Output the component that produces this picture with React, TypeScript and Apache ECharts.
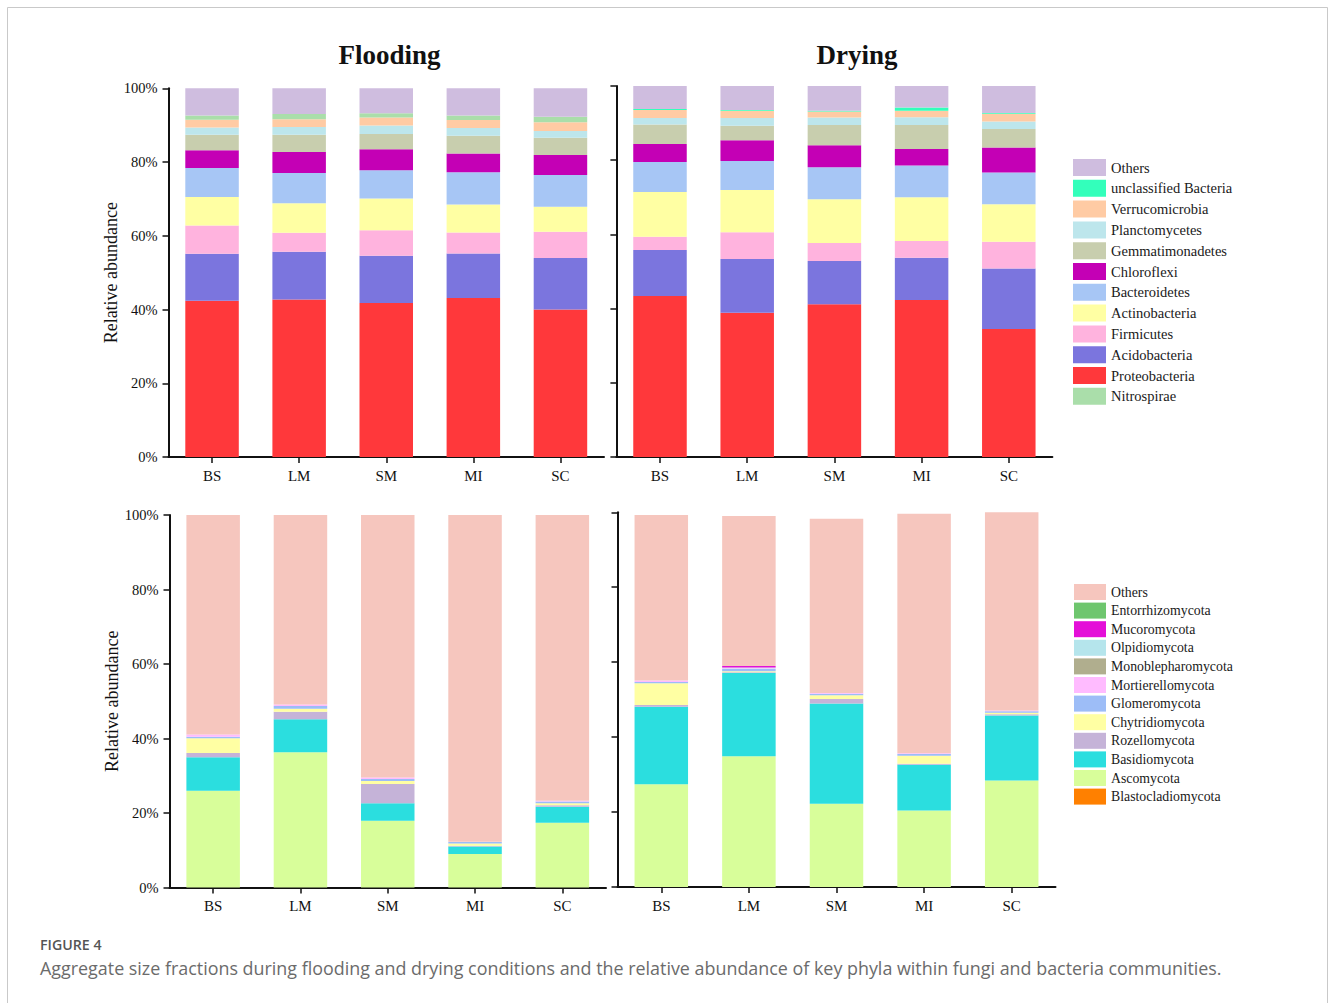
import React, { useEffect, useRef } from "react";
import * as echarts from "echarts";

// Sampling sites on every x axis
const sites = ["BS", "LM", "SM", "MI", "SC"];
const yTicks = [0, 20, 40, 60, 80, 100];

// Bacterial phyla, stacked bottom → top
const bacteriaPhyla = [
  "Proteobacteria",
  "Acidobacteria",
  "Firmicutes",
  "Actinobacteria",
  "Bacteroidetes",
  "Chloroflexi",
  "Gemmatimonadetes",
  "Planctomycetes",
  "Verrucomicrobia",
  "Nitrospirae",
  "unclassified Bacteria",
  "Others",
];
const bacteriaColors = [
  "#ff383b",
  "#7b75de",
  "#ffb3de",
  "#ffffa3",
  "#a7c6f5",
  "#c400b5",
  "#c8ceae",
  "#bde6ec",
  "#ffcba4",
  "#aadeaa",
  "#33ffbb",
  "#cfbddf",
];
// Legend order for bacteria (top → bottom)
const bacteriaLegend = [
  "Others",
  "unclassified Bacteria",
  "Verrucomicrobia",
  "Planctomycetes",
  "Gemmatimonadetes",
  "Chloroflexi",
  "Bacteroidetes",
  "Actinobacteria",
  "Firmicutes",
  "Acidobacteria",
  "Proteobacteria",
  "Nitrospirae",
];

// Relative abundance (%) per phylum, columns BS, LM, SM, MI, SC
const bacteriaFlooding = [
  [42.4, 42.7, 41.8, 43.1, 40.0],
  [12.7, 13.0, 12.8, 12.1, 14.0],
  [7.7, 5.1, 6.9, 5.7, 7.1],
  [7.7, 8.0, 8.6, 7.6, 6.8],
  [7.9, 8.2, 7.7, 8.7, 8.6],
  [4.8, 5.7, 5.7, 5.1, 5.4],
  [4.2, 4.7, 4.1, 4.8, 4.7],
  [2.0, 2.1, 2.3, 2.1, 1.8],
  [2.1, 2.1, 2.2, 2.2, 2.4],
  [1.1, 1.4, 1.1, 1.2, 1.5],
  [0, 0, 0, 0, 0],
  [7.4, 7.0, 6.8, 7.4, 7.7],
];
const bacteriaDrying = [
  [43.4, 38.9, 41.2, 42.3, 34.5],
  [12.4, 14.5, 11.6, 11.4, 16.3],
  [3.6, 7.2, 4.9, 4.5, 7.2],
  [12.0, 11.4, 11.8, 11.8, 10.1],
  [8.1, 7.8, 8.6, 8.6, 8.6],
  [4.9, 5.6, 5.9, 4.4, 6.7],
  [5.2, 3.9, 5.5, 6.5, 5.0],
  [1.8, 2.1, 2.0, 2.1, 2.0],
  [2.1, 1.9, 1.6, 1.7, 2.1],
  [0, 0, 0, 0, 0],
  [0.3, 0.2, 0.2, 0.9, 0.2],
  [6.2, 6.5, 6.7, 5.8, 7.3],
];

// Fungal phyla, stacked bottom → top
const fungiPhyla = [
  "Blastocladiomycota",
  "Ascomycota",
  "Basidiomycota",
  "Rozellomycota",
  "Chytridiomycota",
  "Glomeromycota",
  "Mortierellomycota",
  "Monoblepharomycota",
  "Olpidiomycota",
  "Mucoromycota",
  "Entorrhizomycota",
  "Others",
];
const fungiColors = [
  "#ff8000",
  "#d8fe9a",
  "#2bdedf",
  "#c5b3d8",
  "#ffffa3",
  "#9dbdf7",
  "#ffbbff",
  "#b0ae8e",
  "#b5e5ec",
  "#e40fd8",
  "#6ec66e",
  "#f6c6be",
];
const fungiLegend = [
  "Others",
  "Entorrhizomycota",
  "Mucoromycota",
  "Olpidiomycota",
  "Monoblepharomycota",
  "Mortierellomycota",
  "Glomeromycota",
  "Chytridiomycota",
  "Rozellomycota",
  "Basidiomycota",
  "Ascomycota",
  "Blastocladiomycota",
];

const fungiFlooding = [
  [0, 0, 0, 0, 0],
  [26.0, 36.3, 17.9, 9.0, 17.4],
  [9.0, 8.9, 4.7, 2.0, 4.3],
  [1.1, 2.0, 5.2, 0.2, 0.4],
  [4.0, 0.8, 0.8, 0.6, 0.5],
  [0.4, 0.7, 0.5, 0.4, 0.5],
  [0.6, 0.4, 0.4, 0.1, 0.2],
  [0, 0, 0, 0, 0],
  [0, 0, 0, 0, 0],
  [0, 0, 0, 0, 0],
  [0, 0, 0, 0, 0],
  [58.9, 50.9, 70.5, 87.7, 76.7],
];
const fungiDrying = [
  [0, 0, 0, 0, 0],
  [27.4, 34.9, 22.2, 20.4, 28.4],
  [20.7, 22.2, 26.8, 12.2, 17.4],
  [0.5, 0.2, 1.2, 0.3, 0.3],
  [5.8, 0.3, 1.0, 2.1, 0.4],
  [0.3, 0.6, 0.4, 0.5, 0.4],
  [0.4, 0.2, 0.2, 0.2, 0.2],
  [0, 0, 0, 0, 0],
  [0, 0.2, 0, 0, 0],
  [0, 0.4, 0, 0, 0],
  [0, 0, 0, 0, 0],
  [44.2, 40.0, 46.5, 63.9, 52.9],
];

const SERIF = '"Liberation Serif", "Times New Roman", serif';
const SANS = '"Open Sans", "Noto Sans", sans-serif';
const INK = "#111";

// Plot rectangles for the four panels
const grids = [
  { left: 168.5, top: 88.3, width: 435.5, height: 368.7 },
  { left: 616.4, top: 86, width: 436, height: 371 },
  { left: 169.5, top: 515, width: 436.5, height: 372.5 },
  { left: 617.5, top: 512.3, width: 438, height: 374.7 },
];

function buildSeries(
  names: string[],
  colors: string[],
  table: number[][],
  axisIndex: number
) {
  return names.map((name, i) => ({
    type: "bar",
    name,
    stack: "panel" + axisIndex,
    xAxisIndex: axisIndex,
    yAxisIndex: axisIndex,
    barWidth: 53.5,
    silent: true,
    itemStyle: { color: colors[i] },
    emphasis: { disabled: true },
    data: table[i],
  }));
}

function legendData(order: string[], names: string[], colors: string[]) {
  return order.map((n) => ({
    name: n,
    itemStyle: { color: colors[names.indexOf(n)] },
  }));
}

export default function App() {
  const ref = useRef<HTMLDivElement>(null);

  useEffect(() => {
    if (!ref.current) return;
    const chart = echarts.init(ref.current, undefined, { renderer: "svg" });

    const xAxes = grids.map((_, i) => ({
      type: "category",
      gridIndex: i,
      data: sites,
      axisLine: { show: true, lineStyle: { color: INK, width: 2 } },
      axisTick: { show: true, alignWithLabel: true, length: 6, lineStyle: { color: INK, width: 1.5 } },
      axisLabel: { fontFamily: SERIF, fontSize: 15, color: INK, margin: 11 },
      splitLine: { show: false },
    }));

    const yAxes = grids.map((_, i) => {
      const leftSide = i % 2 === 0;
      return {
        type: "value",
        gridIndex: i,
        min: yTicks[0],
        max: yTicks[yTicks.length - 1],
        interval: 20,
        name: leftSide ? "Relative abundance" : "",
        nameLocation: "middle",
        nameGap: 45,
        nameTextStyle: { fontFamily: SERIF, fontSize: 18, color: INK },
        axisLine: { show: true, lineStyle: { color: INK, width: 2 } },
        axisTick: { show: true, length: 6, lineStyle: { color: INK, width: 1.5 } },
        axisLabel: {
          show: leftSide,
          formatter: "{value}%",
          fontFamily: SERIF,
          fontSize: 14.5,
          color: INK,
          margin: 11,
        },
        splitLine: { show: false },
      };
    });

    const series = [
      ...buildSeries(bacteriaPhyla, bacteriaColors, bacteriaFlooding, 0),
      ...buildSeries(bacteriaPhyla, bacteriaColors, bacteriaDrying, 1),
      ...buildSeries(fungiPhyla, fungiColors, fungiFlooding, 2),
      ...buildSeries(fungiPhyla, fungiColors, fungiDrying, 3),
    ];

    chart.setOption({
      animation: false,
      backgroundColor: "#ffffff",
      grid: grids.map((g) => ({ ...g, containLabel: false })),
      xAxis: xAxes,
      yAxis: yAxes,
      legend: [
        {
          orient: "vertical",
          left: 1073,
          top: 159,
          padding: 0,
          icon: "rect",
          itemWidth: 33,
          itemHeight: 17,
          itemGap: 3.8,
          selectedMode: false,
          textStyle: { fontFamily: SERIF, fontSize: 14.5, color: "#1a1a1a" },
          data: legendData(bacteriaLegend, bacteriaPhyla, bacteriaColors),
        },
        {
          orient: "vertical",
          left: 1074,
          top: 584,
          padding: 0,
          icon: "rect",
          itemWidth: 32,
          itemHeight: 16,
          itemGap: 2.6,
          selectedMode: false,
          textStyle: { fontFamily: SERIF, fontSize: 13.8, color: "#1a1a1a" },
          data: legendData(fungiLegend, fungiPhyla, fungiColors),
        },
      ],
      graphic: [
        {
          type: "rect",
          shape: { x: 7.5, y: 7.5, width: 1320, height: 1020 },
          style: { fill: "none", stroke: "#c9c9c9", lineWidth: 1 },
          silent: true,
        },
        {
          type: "text",
          x: 389.5,
          y: 55,
          style: {
            text: "Flooding",
            fontFamily: SERIF,
            fontSize: 27,
            fontWeight: "bold",
            fill: INK,
            align: "center",
            verticalAlign: "middle",
          },
        },
        {
          type: "text",
          x: 857,
          y: 55,
          style: {
            text: "Drying",
            fontFamily: SERIF,
            fontSize: 27,
            fontWeight: "bold",
            fill: INK,
            align: "center",
            verticalAlign: "middle",
          },
        },
        {
          type: "text",
          x: 40,
          y: 944,
          style: {
            text: "FIGURE 4",
            fontFamily: SANS,
            fontSize: 14.2,
            fontWeight: 600,
            fill: "#555",
            align: "left",
            verticalAlign: "middle",
          },
        },
        {
          type: "text",
          x: 40,
          y: 968,
          style: {
            text:
              "Aggregate size fractions during flooding and drying conditions and the relative abundance of key phyla within fungi and bacteria communities.",
            fontFamily: SANS,
            fontSize: 17.9,
            fill: "#6b6b6b",
            align: "left",
            verticalAlign: "middle",
          },
        },
      ],
      series,
    });

    return () => chart.dispose();
  }, []);

  return (
    <div
      ref={ref}
      style={{ position: "absolute", left: 0, top: 0, width: 1330, height: 1003 }}
    />
  );
}
